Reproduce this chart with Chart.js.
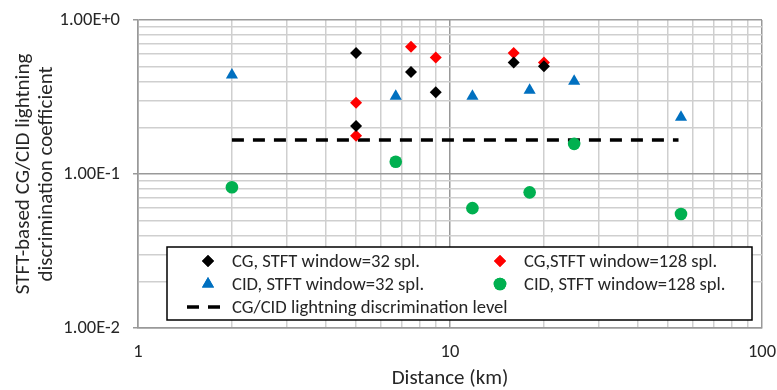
<!DOCTYPE html>
<html>
<head>
<meta charset="utf-8">
<script src="https://cdn.jsdelivr.net/npm/chart.js@4/dist/chart.umd.min.js"></script>
<style>
  html, body { margin: 0; padding: 0; background: #fff; }
  #chart { display: block; }
</style>
</head>
<body>
<canvas id="chart" width="777" height="390"></canvas>
<script>
// Values (distance in km, coefficient).
const cg32Dist = [5, 5, 7.5, 9, 16, 20];
const cg32Coef = [0.61, 0.205, 0.46, 0.34, 0.53, 0.50];

const cg128Dist = [5, 5, 7.5, 9, 16, 20];
const cg128Coef = [0.29, 0.177, 0.67, 0.57, 0.61, 0.53];

const cid32Dist = [2, 6.7, 11.8, 18, 25, 55];
const cid32Coef = [0.44, 0.32, 0.32, 0.35, 0.40, 0.234];

const cid128Dist = [2, 6.7, 11.8, 18, 25, 55];
const cid128Coef = [0.082, 0.12, 0.060, 0.076, 0.157, 0.055];

const levelDist = [2, 54];
const levelCoef = [0.166, 0.166];

const xTickLabels = {1: "1", 10: "10", 100: "100"};
const yTickLabels = {1: "1.00E+0", 0.1: "1.00E-1", 0.01: "1.00E-2"};

// Carlito is metric-compatible with Calibri, which the original was set in.
const FONT = "Carlito, Lato, sans-serif";
const TEXT = "#262626";
const MINOR_GRID = "#cfcfcf";
const MAJOR_GRID = "#999999";

const pts = (xs, ys) => xs.map((x, i) => ({x, y: ys[i]}));
const isDecade = (v) => Math.abs(Math.log10(v) - Math.round(Math.log10(v))) < 1e-9;

// 1..9 in every decade between lo and hi, so the minor grid matches Excel's.
const logTicks = (lo, hi) => {
  const out = [];
  for (let e = Math.round(Math.log10(lo)); e < Math.round(Math.log10(hi)); e++) {
    for (let m = 1; m < 10; m++) out.push({value: m * Math.pow(10, e)});
  }
  out.push({value: hi});
  return out;
};

// Legend inside the plot, two columns, drawn from the datasets' own styles.
const boxLegend = {
  id: "boxLegend",
  afterDatasetsDraw(chart) {
    const {ctx} = chart;
    const ds = chart.data.datasets;
    const box = {l: 167, t: 247, r: 752, b: 320};
    const rows = [261, 284, 307];
    const cols = [{m: 208, t: 232}, {m: 500, t: 524}];
    const slots = [[0, 0], [0, 1], [1, 0], [1, 1], [2, 0]];
    ctx.save();
    ctx.fillStyle = "#fff";
    ctx.fillRect(box.l, box.t, box.r - box.l, box.b - box.t);
    ctx.lineWidth = 1.5;
    ctx.strokeStyle = "#000";
    ctx.strokeRect(box.l, box.t, box.r - box.l, box.b - box.t);
    ctx.font = `18.6px ${FONT}`;
    ctx.textBaseline = "middle";
    ds.forEach((d, i) => {
      const [row, col] = slots[i];
      const y = rows[row];
      const c = cols[col];
      if (d.type === "line") {
        ctx.save();
        ctx.strokeStyle = d.borderColor;
        ctx.lineWidth = d.borderWidth;
        ctx.setLineDash(d.borderDash);
        ctx.beginPath();
        ctx.moveTo(187, y);
        ctx.lineTo(220, y);
        ctx.stroke();
        ctx.restore();
      } else {
        ctx.fillStyle = d.backgroundColor;
        ctx.strokeStyle = d.backgroundColor;
        Chart.helpers.drawPoint(ctx, {pointStyle: d.pointStyle, radius: d.pointRadius, borderWidth: 0}, c.m, y);
        ctx.fill();
      }
      ctx.fillStyle = TEXT;
      ctx.fillText(d.label, c.t, y + 1);
    });
    ctx.restore();
  },
};

const marker = (label, data, color, style, radius) => ({
  type: "scatter",
  label,
  data,
  pointStyle: style,
  pointRadius: radius,
  pointHoverRadius: radius,
  backgroundColor: color,
  borderColor: color,
  borderWidth: 0,
});

new Chart(document.getElementById("chart"), {
  data: {
    datasets: [
      marker("CG, STFT window=32 spl.", pts(cg32Dist, cg32Coef), "#000000", "rectRot", 6),
      marker("CG,STFT window=128 spl.", pts(cg128Dist, cg128Coef), "#ff0000", "rectRot", 6),
      marker("CID, STFT window=32 spl.", pts(cid32Dist, cid32Coef), "#0070c0", "triangle", 7),
      marker("CID, STFT window=128 spl.", pts(cid128Dist, cid128Coef), "#00b050", "circle", 6.3),
      {
        type: "line",
        label: "CG/CID lightning discrimination level",
        data: pts(levelDist, levelCoef),
        borderColor: "#000000",
        borderWidth: 3.5,
        borderDash: [12, 9],
        borderCapStyle: "butt",
        pointRadius: 0,
        fill: false,
      },
    ],
  },
  options: {
    responsive: false,
    animation: false,
    layout: {padding: {left: 0, right: 15, top: 20, bottom: 0}},
    plugins: {legend: {display: false}, tooltip: {enabled: false}},
    scales: {
      x: {
        type: "logarithmic",
        min: 1,
        max: 100,
        afterBuildTicks: (s) => { s.ticks = logTicks(1, 100); },
        // the "100" label is allowed to run off the right edge, as in the original
        afterFit: (s) => { s.height = 62; s.paddingRight = 0; s.paddingLeft = 0; },
        ticks: {
          autoSkip: false,
          maxRotation: 0,
          padding: 13,
          color: TEXT,
          font: {family: FONT, size: 18.5},
          callback: (v) => xTickLabels[v] ?? "",
        },
        grid: {
          drawTicks: false,
          lineWidth: 1.5,
          color: (c) => (c.tick && isDecade(c.tick.value) ? MAJOR_GRID : MINOR_GRID),
        },
        border: {display: true, color: MAJOR_GRID, width: 1.5},
        title: {
          display: true,
          text: "Distance (km)",
          color: TEXT,
          font: {family: FONT, size: 21, lineHeight: 1.1},
          padding: {top: 0, bottom: 0},
        },
      },
      y: {
        type: "logarithmic",
        min: 0.01,
        max: 1,
        afterBuildTicks: (s) => { s.ticks = logTicks(0.01, 1); },
        afterFit: (s) => { s.width = 138; s.paddingTop = 0; s.paddingBottom = 0; },
        ticks: {
          autoSkip: false,
          padding: 13,
          color: TEXT,
          font: {family: FONT, size: 18.5},
          callback: (v) => {
            const key = Object.keys(yTickLabels).find((k) => Math.abs(k - v) < 1e-12);
            return key ? yTickLabels[key] : "";
          },
        },
        grid: {
          tickLength: 5,
          lineWidth: 1.5,
          color: (c) => (c.tick && isDecade(c.tick.value) ? MAJOR_GRID : MINOR_GRID),
          tickColor: (c) => (c.tick && isDecade(c.tick.value) ? MAJOR_GRID : "rgba(0,0,0,0)"),
        },
        border: {display: true, color: MAJOR_GRID, width: 1.5},
        title: {
          display: true,
          text: ["STFT-based CG/CID lightning", "discrimination coefficient"],
          color: TEXT,
          font: {family: FONT, size: 21, lineHeight: 1.1},
          padding: {top: 12, bottom: 0},
        },
      },
    },
  },
  plugins: [boxLegend],
});
</script>
</body>
</html>
